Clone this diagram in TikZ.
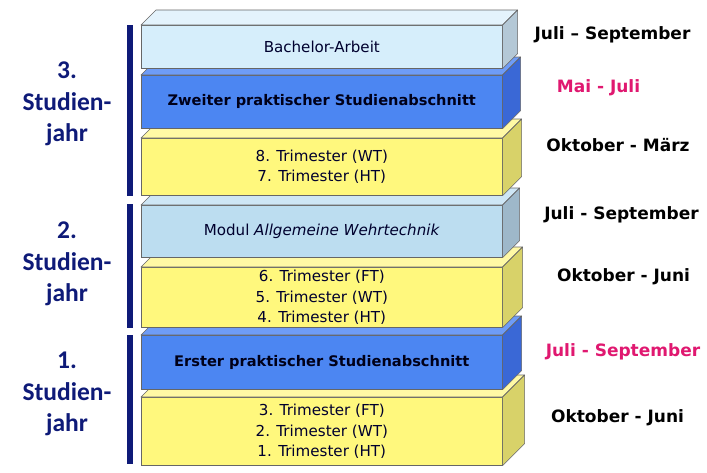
\documentclass[tikz,border=0pt]{standalone}
\usepackage{fontspec}
\setmainfont{DejaVu Sans}
\newfontfamily\lblfont{Carlito}
\usetikzlibrary{calc}
\definecolor{navy}{RGB}{14,26,120}
\definecolor{pinkd}{RGB}{224,24,112}
\definecolor{yelF}{RGB}{255,248,125}
\definecolor{yelT}{RGB}{255,249,165}
\definecolor{yelS}{RGB}{216,210,105}
\definecolor{bluF}{RGB}{76,134,242}
\definecolor{bluT}{RGB}{110,156,247}
\definecolor{bluS}{RGB}{58,104,214}
\definecolor{lbF}{RGB}{214,238,251}
\definecolor{lbT}{RGB}{228,243,252}
\definecolor{lbS}{RGB}{180,200,214}
\definecolor{mbF}{RGB}{188,221,240}
\definecolor{mbT}{RGB}{206,230,245}
\definecolor{mbS}{RGB}{158,184,202}
\newcommand\slabfaces[4]{%
  \filldraw[facestyle, fill=#3] (#1.north west) -- ++(#2,-#2) -- ($(#1.north east)+(#2,-#2)$) -- (#1.north east) -- cycle;
  \filldraw[facestyle, fill=#4] (#1.north east) -- ++(#2,-#2) -- ($(#1.south east)+(#2,-#2)$) -- (#1.south east) -- cycle;}
\begin{document}
\begin{tikzpicture}[x=1pt,y=-1pt,
  facestyle/.style={draw=black!60, line width=0.6pt, line join=round},
  slab/.style={draw=black!60, line width=0.6pt, inner sep=0pt, anchor=north west,
    minimum width=361pt, align=center, text=black!82!blue,
    font=\fontsize{15.1}{20.5}\selectfont},
  slabbold/.style={slab, text=black!90!blue, font=\bfseries\fontsize{14.6}{20}\selectfont},
  yearlbl/.style={align=center, text=navy, font=\lblfont\bfseries\fontsize{25.5}{31.5}\selectfont},
  datelbl/.style={font=\bfseries\fontsize{17}{20}\selectfont, text=black},
  bar/.style={fill=navy}]
\useasboundingbox[fill=white] (0,0) rectangle (707,472);
% slabs, bottom to top
\node[slab, fill=yelF, minimum height=68pt] (s7) at (141,397) {3. Trimester (FT)\\2. Trimester (WT)\\1. Trimester (HT)};
\slabfaces{s7}{22}{yelT}{yelS}
\node[slabbold, fill=bluF, minimum height=54pt] (s6) at (141,335) {Erster praktischer Studienabschnitt};
\slabfaces{s6}{19}{bluT}{bluS}
\node[slab, fill=yelF, minimum height=60pt] (s5) at (141,267) {6. Trimester (FT)\\5. Trimester (WT)\\4. Trimester (HT)};
\slabfaces{s5}{20}{yelT}{yelS}
\node[slab, fill=mbF, minimum height=52pt] (s4) at (141,205) {Modul \textit{Allgemeine Wehrtechnik}};
\slabfaces{s4}{17}{mbT}{mbS}
\node[slab, fill=yelF, minimum height=57pt] (s3) at (141,138) {8. Trimester (WT)\\7. Trimester (HT)};
\slabfaces{s3}{19}{yelT}{yelS}
\node[slabbold, fill=bluF, minimum height=53pt] (s2) at (141,75) {Zweiter praktischer Studienabschnitt};
\slabfaces{s2}{18}{bluT}{bluS}
\node[slab, fill=lbF, minimum height=43pt] (s1) at (141,25) {Bachelor-Arbeit};
\slabfaces{s1}{15}{lbT}{lbS}
% year bars
\fill[bar] (127,25) rectangle (133,196);
\fill[bar] (127,204) rectangle (133,328);
\fill[bar] (127,335) rectangle (133,464);
% year labels
\node[yearlbl] (y3) at (67,104) {3.\\Studien-\\jahr};
\node[yearlbl] (y2) at (67,264) {2.\\Studien-\\jahr};
\node[yearlbl] (y1) at (67,394) {1.\\Studien-\\jahr};
% dates
\node[datelbl] (d1) at (612.5,35) {Juli – September};
\node[datelbl, text=pinkd] (d2) at (598.5,88) {Mai - Juli};
\node[datelbl] (d3) at (618,145) {Oktober - März};
\node[datelbl] (d4) at (621.5,215) {Juli - September};
\node[datelbl] (d5) at (623.5,277) {Oktober - Juni};
\node[datelbl, text=pinkd] (d6) at (623,352) {Juli - September};
\node[datelbl] (d7) at (617.5,418) {Oktober - Juni};
\end{tikzpicture}
\end{document}
